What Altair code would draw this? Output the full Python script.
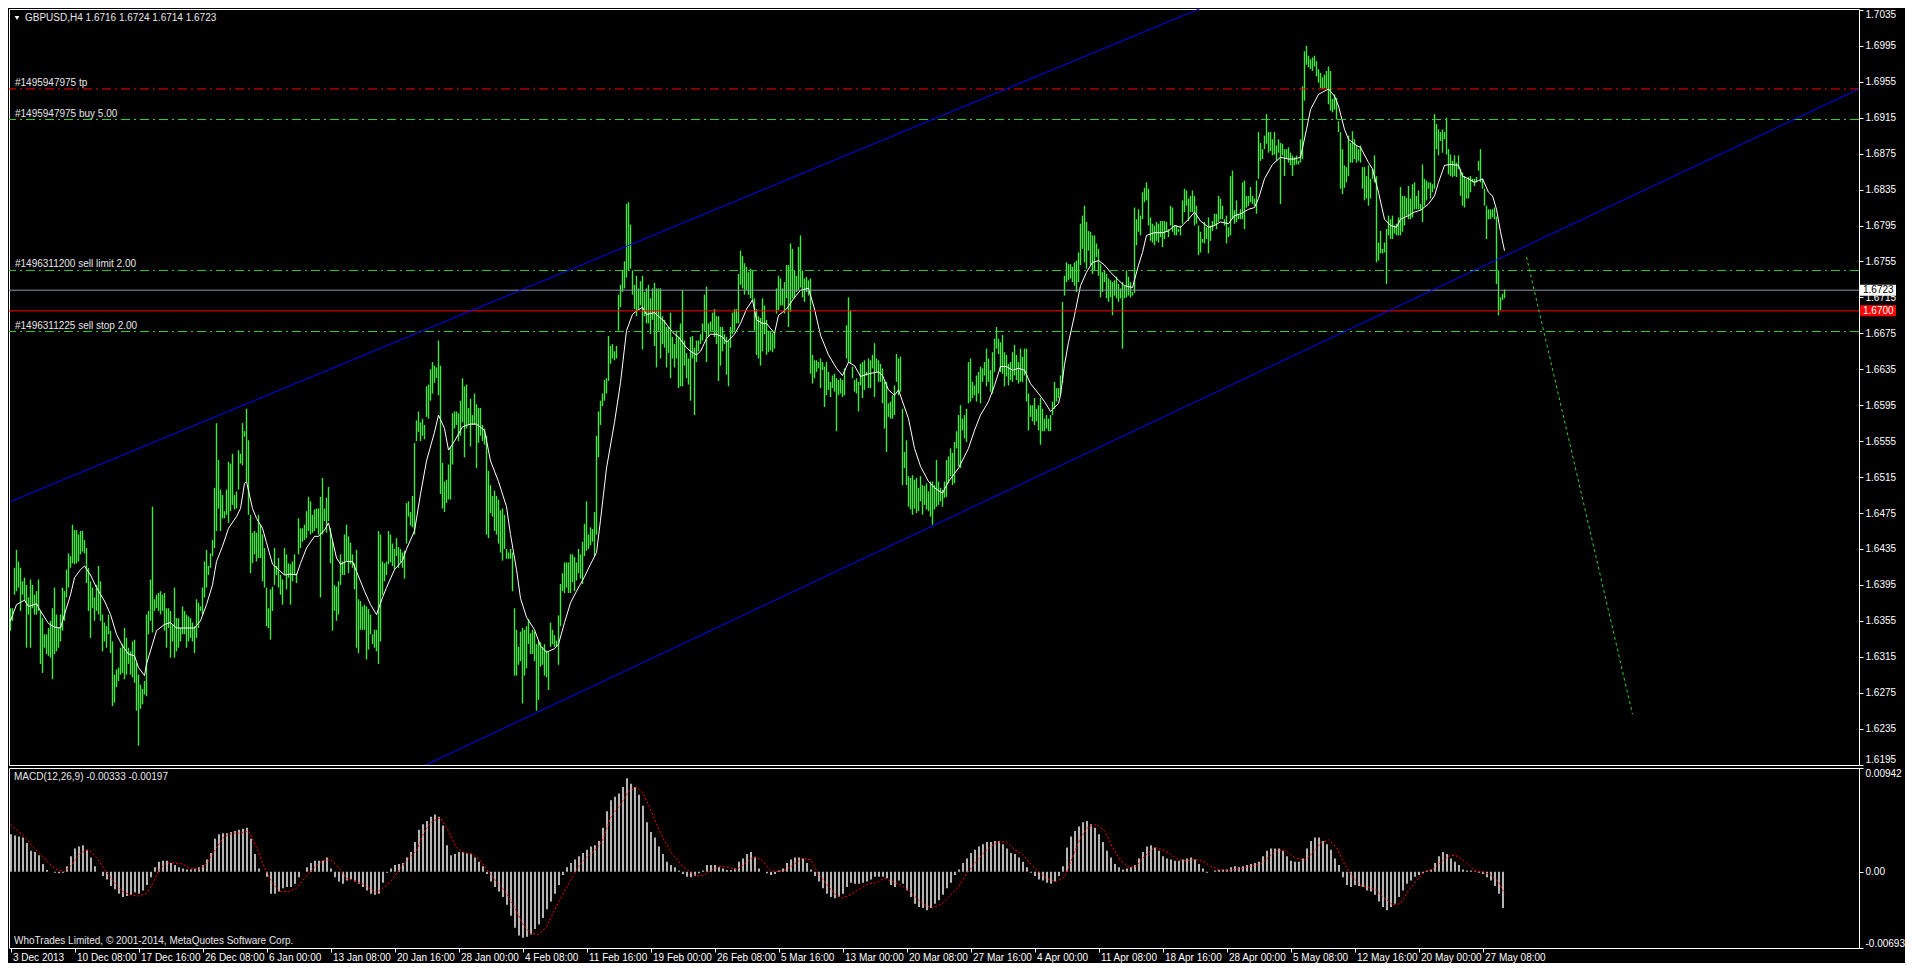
import altair as alt
import pandas as pd

FONT = "Liberation Sans"
W, H1, H2 = 1850, 756, 180
GREEN = "#3ee83e"
LINE_GREEN = "#32cd32"
TEXT = "#e6e6e6"

SYMBOL_TEXT = "GBPUSD,H4  1.6716 1.6724 1.6714 1.6723"
MACD_TEXT = "MACD(12,26,9) -0.00333 -0.00197"
COPYRIGHT_TEXT = "WhoTrades Limited, \u00a9 2001-2014, MetaQuotes Software Corp."

DATE_LABELS = ["3 Dec 2013", "10 Dec 08:00", "17 Dec 16:00", "26 Dec 08:00", "6 Jan 00:00",
               "13 Jan 08:00", "20 Jan 16:00", "28 Jan 00:00", "4 Feb 08:00", "11 Feb 16:00",
               "19 Feb 00:00", "26 Feb 08:00", "5 Mar 16:00", "13 Mar 00:00", "20 Mar 08:00",
               "27 Mar 16:00", "4 Apr 00:00", "11 Apr 08:00", "18 Apr 16:00", "28 Apr 00:00",
               "5 May 08:00", "12 May 16:00", "20 May 00:00", "27 May 08:00"]
BARS_PER_LABEL = 32

PRICE_TICKS = [1.6195, 1.6235, 1.6275, 1.6315, 1.6355, 1.6395, 1.6435, 1.6475, 1.6515, 1.6555, 1.6595,
               1.6635, 1.6675, 1.6715, 1.6755, 1.6795, 1.6835, 1.6875, 1.6915, 1.6955, 1.6995, 1.7035]
MACD_TICKS = [-0.00693, 0.0, 0.00942]
MACD_TICK_LABELS = ["-0.00693", "0.00", "0.00942"]

# H4 bars: high / low in pips above 1.6000, four consecutive segments
SEG_START = [0, 189, 379, 569]
HIGH_1 = [369, 369, 414, 434, 421, 414, 399, 403, 395, 381, 401, 395, 384, 388, 401, 366, 358, 340, 340, 347,
          355, 369, 392, 362, 347, 362, 392, 388, 412, 430, 427, 462, 456, 456, 451, 455, 455, 445, 436, 414,
          399, 392, 381, 395, 416, 399, 362, 353, 349, 362, 344, 332, 295, 301, 303, 325, 329, 347, 336, 325,
          321, 332, 334, 308, 295, 284, 279, 288, 362, 366, 401, 482, 379, 384, 386, 388, 384, 386, 369, 369,
          366, 351, 392, 358, 358, 347, 371, 366, 362, 360, 358, 353, 349, 379, 375, 371, 392, 421, 434, 416,
          430, 445, 503, 575, 534, 501, 495, 477, 501, 532, 530, 541, 495, 499, 545, 541, 575, 566, 591, 556,
          473, 453, 455, 453, 473, 462, 451, 436, 392, 369, 390, 393, 436, 416, 425, 406, 401, 436, 429, 419,
          418, 421, 429, 408, 469, 458, 458, 462, 477, 493, 488, 473, 479, 480, 480, 493, 514, 480, 492, 504,
          458, 443, 395, 393, 399, 429, 421, 451, 462, 449, 442, 429, 419, 434, 379, 377, 371, 373, 371, 368,
          362, 340, 345, 345, 455, 451, 421, 419, 421]
LOW_1 = [344, 355, 384, 388, 392, 366, 384, 377, 325, 362, 325, 369, 362, 362, 366, 307, 297, 325, 318, 316,
         314, 290, 318, 321, 325, 332, 344, 355, 381, 392, 414, 419, 418, 419, 421, 429, 432, 430, 397, 366,
         336, 369, 355, 366, 362, 355, 321, 332, 325, 340, 319, 260, 264, 281, 288, 295, 297, 290, 295, 307,
         295, 292, 286, 255, 216, 257, 262, 273, 271, 340, 355, 342, 366, 369, 366, 362, 366, 344, 325, 347,
         314, 332, 314, 321, 325, 332, 340, 340, 325, 332, 336, 332, 319, 336, 347, 366, 362, 381, 392, 406,
         414, 427, 436, 455, 480, 455, 469, 469, 473, 464, 477, 484, 479, 480, 501, 530, 528, 560, 510, 473,
         408, 419, 429, 421, 425, 425, 399, 392, 349, 347, 334, 366, 395, 406, 392, 384, 373, 406, 390, 403,
         373, 399, 406, 397, 429, 436, 443, 445, 447, 455, 451, 453, 455, 458, 451, 381, 451, 466, 453, 466,
         419, 344, 366, 355, 362, 395, 406, 406, 421, 408, 418, 414, 390, 325, 319, 345, 345, 345, 312, 323,
         340, 329, 325, 321, 307, 332, 384, 399, 406]
HIGH_2 = [455, 451, 441, 435, 447, 437, 435, 431, 433, 486, 488, 476, 494, 553, 578, 588, 576, 580, 573, 616,
          618, 635, 643, 639, 637, 667, 639, 531, 510, 512, 529, 549, 586, 588, 588, 586, 600, 625, 616, 618,
          592, 602, 584, 608, 596, 592, 592, 573, 569, 561, 522, 506, 494, 500, 494, 490, 478, 480, 473, 435,
          431, 435, 431, 369, 345, 326, 343, 347, 345, 349, 357, 341, 345, 343, 329, 333, 331, 326, 329, 322,
          320, 353, 345, 339, 333, 361, 396, 408, 420, 420, 420, 429, 429, 426, 420, 435, 429, 443, 463, 488,
          451, 459, 457, 476, 561, 588, 600, 608, 623, 625, 672, 661, 663, 655, 661, 718, 729, 745, 755, 819,
          821, 796, 745, 729, 739, 725, 733, 739, 721, 725, 729, 714, 725, 731, 725, 725, 725, 694, 690, 682,
          682, 698, 671, 663, 678, 671, 686, 723, 667, 653, 647, 671, 672, 659, 667, 667, 674, 686, 718, 727,
          686, 688, 698, 702, 694, 694, 682, 682, 674, 671, 667, 682, 698, 702, 702, 741, 767, 761, 753, 749,
          743, 747, 745, 714, 702, 694, 692, 714, 706, 690]
LOW_2 = [418, 420, 416, 412, 427, 414, 420, 414, 402, 441, 471, 461, 459, 451, 555, 565, 555, 561, 557, 582,
         580, 600, 608, 620, 625, 606, 496, 480, 476, 486, 490, 490, 529, 569, 573, 555, 561, 576, 537, 569,
         573, 549, 573, 573, 525, 553, 561, 555, 551, 451, 447, 475, 471, 455, 451, 441, 431, 422, 435, 424,
         424, 424, 388, 294, 294, 306, 310, 263, 294, 302, 329, 318, 318, 310, 255, 267, 304, 306, 294, 292,
         278, 326, 329, 326, 326, 306, 349, 388, 386, 392, 386, 386, 398, 388, 400, 408, 402, 396, 427, 433,
         435, 439, 443, 427, 451, 537, 573, 594, 600, 608, 622, 641, 647, 645, 647, 678, 704, 721, 725, 737,
         745, 747, 718, 702, 694, 702, 706, 657, 694, 686, 686, 674, 690, 661, 637, 678, 647, 663, 659, 637,
         653, 625, 647, 637, 647, 614, 616, 616, 639, 625, 618, 600, 647, 584, 643, 655, 663, 667, 678, 643,
         671, 676, 678, 671, 663, 622, 639, 655, 663, 629, 616, 659, 674, 678, 686, 686, 729, 725, 718, 723,
         718, 714, 710, 678, 651, 647, 639, 655, 674, 651]
HIGH_3 = [678, 677, 675, 677, 725, 739, 736, 725, 732, 751, 751, 775, 769, 745, 739, 771, 784, 745, 736, 738,
          734, 736, 651, 645, 645, 643, 647, 643, 638, 643, 632, 621, 628, 630, 625, 623, 625, 623, 636, 684,
          715, 701, 638, 623, 625, 621, 641, 643, 645, 632, 647, 645, 651, 664, 647, 645, 641, 636, 621, 621,
          597, 599, 606, 617, 652, 647, 649, 591, 543, 556, 516, 514, 517, 512, 514, 503, 516, 506, 505, 508,
          499, 510, 510, 506, 534, 510, 503, 501, 510, 534, 538, 547, 542, 554, 566, 584, 595, 580, 584, 591,
          643, 647, 621, 617, 628, 632, 638, 636, 643, 658, 647, 634, 654, 669, 682, 669, 665, 673, 654, 651,
          641, 643, 654, 662, 651, 643, 658, 649, 658, 658, 608, 595, 595, 603, 591, 595, 603, 591, 580, 584,
          580, 584, 599, 621, 614, 614, 628, 710, 739, 754, 752, 752, 749, 754, 756, 765, 797, 806, 817, 799,
          789, 788, 784, 784, 775, 769, 752, 743, 745, 741, 736, 734, 732, 734, 738, 730, 725, 732, 728, 745,
          738, 732, 721, 815, 802, 813, 806, 832, 837, 843]
LOW_3 = [654, 656, 654, 658, 697, 701, 706, 706, 697, 714, 682, 699, 714, 714, 721, 723, 726, 715, 710, 721,
         717, 630, 619, 625, 632, 636, 614, 634, 593, 606, 612, 604, 614, 610, 566, 606, 608, 604, 606, 647,
         643, 641, 625, 610, 608, 588, 617, 603, 612, 628, 614, 614, 636, 604, 632, 621, 621, 597, 569, 543,
         582, 580, 580, 584, 621, 606, 610, 506, 525, 506, 482, 479, 473, 480, 475, 477, 488, 473, 484, 479,
         477, 471, 462, 479, 482, 484, 488, 482, 492, 493, 508, 516, 506, 508, 547, 527, 525, 567, 558, 554,
         597, 599, 603, 606, 599, 608, 597, 621, 628, 616, 621, 610, 608, 632, 658, 652, 632, 630, 616, 627,
         617, 623, 621, 628, 623, 619, 621, 621, 628, 599, 567, 582, 577, 573, 577, 567, 551, 566, 566, 569,
         566, 566, 584, 591, 599, 603, 606, 620, 717, 732, 734, 736, 732, 728, 721, 732, 751, 769, 754, 747,
         767, 751, 741, 745, 760, 739, 715, 721, 732, 714, 710, 715, 695, 717, 714, 710, 714, 658, 714, 715,
         717, 715, 717, 720, 773, 788, 784, 802, 821, 823]
HIGH_4 = [836, 804, 797, 795, 799, 797, 800, 800, 800, 799, 791, 817, 815, 795, 795, 791, 795, 823, 836, 834,
          825, 828, 834, 828, 817, 795, 788, 780, 799, 793, 804, 795, 800, 808, 808, 828, 825, 817, 802, 806,
          793, 850, 856, 812, 823, 808, 813, 843, 845, 828, 828, 838, 828, 825, 845, 899, 887, 880, 895, 919,
          899, 899, 891, 899, 884, 891, 887, 886, 880, 880, 882, 876, 873, 871, 873, 867, 891, 950, 989, 995,
          984, 980, 982, 984, 978, 969, 965, 960, 963, 967, 972, 967, 936, 941, 937, 911, 899, 880, 862, 860,
          895, 887, 900, 891, 884, 880, 884, 860, 860, 850, 862, 847, 858, 873, 850, 776, 789, 769, 776, 791,
          806, 802, 806, 795, 797, 804, 838, 828, 828, 826, 839, 825, 841, 843, 828, 834, 819, 863, 847, 845,
          843, 843, 841, 919, 908, 902, 899, 902, 899, 915, 880, 874, 867, 873, 865, 873, 858, 854, 850, 847,
          849, 850, 847, 847, 849, 867, 880, 847, 836, 817, 813, 813, 813, 815, 805, 745, 715, 719, 724]
LOW_4 = [795, 778, 776, 773, 778, 776, 782, 771, 780, 788, 782, 795, 788, 784, 784, 788, 784, 797, 810, 817,
         800, 810, 810, 795, 797, 762, 765, 776, 775, 780, 764, 778, 789, 795, 791, 799, 802, 802, 795, 775,
         782, 784, 802, 797, 799, 802, 802, 802, 791, 815, 817, 821, 819, 817, 808, 847, 867, 869, 880, 886,
         876, 878, 873, 874, 867, 876, 819, 873, 850, 869, 865, 862, 850, 862, 863, 863, 865, 869, 934, 974,
         971, 969, 967, 972, 961, 954, 948, 947, 948, 947, 930, 923, 921, 924, 913, 899, 836, 830, 837, 843,
         850, 865, 865, 869, 865, 867, 865, 836, 823, 825, 817, 825, 847, 843, 754, 756, 764, 764, 765, 730,
         784, 780, 780, 786, 784, 784, 784, 788, 795, 806, 802, 802, 804, 813, 813, 813, 812, 799, 817, 823,
         836, 825, 832, 836, 880, 873, 889, 876, 891, 874, 852, 850, 849, 850, 849, 858, 828, 817, 815, 825,
         825, 832, 843, 839, 843, 856, 843, 836, 817, 780, 802, 802, 804, 802, 730, 695, 701, 712, 714]

# white moving average: (bar, pips above 1.6000)
MA_BAR = [0, 3, 7, 9, 13, 15, 19, 22, 25, 27, 30, 32, 35, 37, 40, 43, 47, 50, 53, 56, 59, 62, 64, 67, 68, 71,
          73, 77, 80, 83, 87, 90, 92, 95, 98, 101, 103, 106, 109, 113, 115, 117, 118, 121, 123, 126, 128, 131,
          133, 137, 140, 143, 145, 148, 152, 154, 157, 159, 163, 165, 168, 171, 173, 177, 180, 183, 186, 188,
          192, 196, 198, 202, 205, 208, 212, 214, 217, 219, 222, 226, 230, 233, 237, 240, 244, 248, 250, 253,
          255, 258, 262, 265, 268, 272, 274, 277, 280, 283, 287, 290, 293, 295, 298, 302, 305, 308, 311, 313,
          316, 318, 322, 324, 327, 329, 332, 334, 338, 340, 343, 345, 348, 350, 353, 356, 358, 362, 365, 368,
          371, 373, 376, 378, 382, 384, 388, 392, 395, 399, 402, 405, 409, 413, 416, 419, 422, 425, 429, 434,
          436, 439, 442, 444, 449, 452, 455, 459, 462, 466, 469, 474, 479, 482, 485, 489, 492, 495, 498, 501,
          504, 507, 510, 514, 517, 520, 524, 525, 527, 529, 532, 535, 538, 541, 544, 547, 550, 554, 557, 561,
          564, 566, 568, 572, 576, 579, 582, 585, 589, 592, 595, 599, 602, 605, 609, 612, 615, 619, 622, 624,
          627, 631, 635, 639, 642, 645, 648, 650, 654, 659, 662, 664, 667, 669, 673, 675, 679, 681, 684, 687,
          690, 693, 695, 699, 702, 705, 709, 712, 714, 717, 720, 724, 726, 729, 732, 734, 736, 739, 741, 743,
          745, 747]
MA_PIP = [355, 373, 378, 371, 374, 366, 352, 348, 347, 362, 384, 403, 412, 416, 406, 392, 377, 362, 340, 327,
          318, 316, 303, 294, 307, 329, 344, 351, 353, 347, 347, 347, 347, 355, 373, 395, 421, 438, 458, 471,
          480, 508, 510, 480, 469, 458, 442, 418, 414, 406, 407, 406, 419, 436, 449, 449, 456, 464, 425, 418,
          421, 421, 410, 388, 373, 362, 381, 392, 412, 422, 435, 455, 496, 533, 565, 584, 569, 545, 555, 571,
          574, 574, 567, 533, 510, 482, 451, 412, 380, 359, 345, 327, 320, 324, 329, 353, 375, 388, 404, 418,
          431, 467, 525, 576, 620, 678, 696, 700, 704, 696, 698, 694, 688, 682, 674, 671, 659, 655, 651, 655,
          669, 674, 674, 671, 665, 674, 686, 702, 712, 690, 686, 686, 675, 695, 702, 715, 723, 725, 702, 673,
          651, 636, 628, 643, 639, 627, 630, 632, 628, 612, 606, 612, 580, 547, 527, 510, 503, 497, 510, 525,
          547, 567, 584, 599, 617, 638, 638, 634, 636, 634, 619, 608, 599, 588, 597, 606, 640, 665, 695, 728,
          743, 754, 756, 751, 743, 734, 728, 726, 751, 765, 784, 787, 787, 789, 795, 793, 802, 810, 800, 793,
          795, 799, 797, 806, 808, 813, 815, 825, 847, 863, 871, 869, 869, 871, 902, 924, 941, 947, 939, 928,
          902, 891, 884, 882, 865, 858, 832, 802, 795, 793, 802, 806, 810, 812, 819, 828, 843, 862, 863, 862,
          850, 847, 843, 845, 847, 832, 828, 813, 788, 767]

# MACD main (histogram), every second bar from bar 0, in units of 0.0001
MACD_HIST = [34, 33, 32, 31, 26, 19, 18, 15, 7, 1.5, 0, -1, -1.5, -1, 5, 14, 21, 23, 24, 20,
             13, 5, 0, -4, -7, -13, -16, -20, -23, -22, -21, -19, -20, -17, -12, -5, 4, 9, 10, 10,
             8, 6, 4, 3, 2, 2, 3, 4, 6, 11, 17, 30, 34, 35, 35, 36, 37, 38, 39, 40,
             30, 16, 3, 0, -4.5, -20, -20, -18, -15, -14, -14, -11, -5, 0, 4, 8, 10, 10, 10, 13,
             3, -5, -9, -11, -8, -7, -9, -11, -14, -17, -20, -21, -20, -10, -1, 3, 6, 7, 8, 13,
             18, 27, 38, 43, 46, 50, 52, 50, 42, 24, 15, 16, 18, 18, 17, 16, 13, 9, 5, -2,
             -9, -14, -18, -23, -30, -40, -51, -58, -60, -59, -57, -52, -48, -42, -34, -27, -20, -12, -3, 4,
             8, 11, 14, 17, 20, 23, 24, 28, 40, 55, 65, 68, 71, 77, 85, 80, 77, 70, 60, 45,
             36, 31, 23, 16, 9, 6, 4, 1, -2, -4.5, -5, -4, -1.5, 1, 6, 6, 6, 4, 3, 1.5,
             1.5, 3, 9, 12, 16, 18, 13, 3, 0, -1.5, -3, -2, 1, 3, 8, 11, 13, 13, 12, 8,
             2, -4, -9, -15, -20, -23, -24, -23, -20, -14, -10, -11, -11, -10, -9, -7, -4.5, -4.5, -4.5, -6,
             -12, -14, -8, -11, -17, -23, -29, -32, -33, -35, -33, -29, -26, -21, -15, -10, -3, 2, 8, 12,
             17, 20, 23, 25, 27, 27, 28, 28, 25, 21, 17, 16, 13, 9, 4, -1, -4, -7, -8, -10,
             -11, -9, -4, 5, 22, 32, 37, 41, 45, 46, 43, 40, 34, 27, 19, 13, 7, 4, 2, 3,
             4, 6, 12, 18, 23, 24, 22, 19, 14, 12, 11, 10, 10, 11, 12, 13, 11, 7, 3, -1,
             0, 1, 1.5, 2, 2, 4, 5, 4, 5, 6, 7, 8, 9, 14, 19, 21, 21, 21, 19, 14,
             10, 9, 9, 12, 21, 28, 31, 31, 28, 25, 20, 12, 6, -5, -12, -14, -12, -13, -14, -17,
             -18, -21, -27, -32, -35, -32, -29, -23, -17, -11, -8, -4.5, -3, -1.5, 1, 2, 8, 14, 18, 16,
             12, 9, 6, 2, 1, 1, 0.5, -1, -2, -5, -8, -13, -20, -33]

# MACD signal (red dotted): (bar, units of 0.0001)
SIG_BAR = [0, 3, 7, 11, 15, 19, 23, 27, 31, 35, 39, 43, 47, 52, 56, 60, 64, 68, 71, 74, 78, 82, 86, 90, 94,
           98, 103, 107, 111, 115, 119, 123, 127, 131, 135, 139, 143, 147, 152, 156, 160, 164, 168, 172, 176,
           180, 183, 186, 190, 194, 198, 203, 207, 211, 215, 219, 223, 227, 231, 235, 239, 243, 247, 252, 256,
           260, 264, 268, 272, 276, 280, 284, 288, 292, 296, 300, 305, 309, 313, 316, 319, 323, 327, 331, 335,
           339, 343, 347, 351, 355, 359, 363, 367, 372, 376, 380, 384, 388, 392, 396, 400, 404, 408, 412, 416,
           420, 425, 429, 433, 437, 441, 445, 449, 453, 457, 461, 465, 469, 474, 478, 482, 486, 490, 494, 498,
           502, 506, 510, 514, 518, 523, 527, 531, 535, 539, 543, 547, 551, 555, 559, 563, 567, 572, 576, 580,
           584, 588, 592, 596, 600, 604, 608, 612, 616, 620, 625, 629, 633, 637, 642, 647, 651, 655, 659, 663,
           667, 671, 675, 679, 683, 687, 691, 695, 699, 703, 707, 711, 716, 720, 724, 728, 732, 736, 740, 744,
           747]
SIG_VAL = [43, 38, 32, 23, 16, 8, 2, 0, 7, 17, 20, 13, 2, -10, -18, -21, -22, -20, -11, 1, 8, 8, 7, 3, 2,
           7, 22, 32, 35, 35, 37, 22, 4, -11, -18, -18, -15, -6, 4, 10, 11, 4, -6, -8, -11,
           -16, -19, -15, -9, 1, 10, 19, 37, 46, 49, 37, 22, 17, 16, 10, 0, -9, -17, -32, -47,
           -56, -57, -50, -35, -21, -8, 5, 13, 19, 28, 49, 61, 73, 77, 72, 61, 43, 28, 16, 7,
           1, -4, -3, 2, 5, 4, 2, 7, 14, 10, 1, 0, 2, 7, 12, 11, -2, -11, -20, -24,
           -21, -15, -11, -10, -6, -9, -12, -17, -24, -30, -33, -30, -23, -14, -2, 7, 16, 23, 27, 27,
           20, 16, 7, 0, -6, -9, -5, 13, 31, 41, 43, 37, 22, 10, 4, 5, 14, 22, 20, 16,
           11, 10, 11, 10, 5, 2, 1, 2, 3, 5, 7, 13, 19, 20, 13, 10, 17, 26, 29, 22,
           7, -5, -12, -14, -17, -24, -30, -29, -17, -8, 0, 2, 10, 15, 14, 8, 1, 0, -3, -9,
           -20]

ORDER_TP_TEXT = ["#1495947975 tp"]
ORDER_TP_PRICE = [1.6947]
ORDER_TEXT = ["#1495947975 buy 5.00", "#1496311200 sell limit 2.00", "#1496311225 sell stop 2.00"]
ORDER_PRICE = [1.6913, 1.6745, 1.6677]
BID_PRICE = [1.6723]
LEVEL_PRICE = [1.6700]

# trend lines: (bar, price) -> (bar, price)
CHANNEL_BAR = [0, 200]
CHANNEL_PRICE = [1.64877, 1.61865]
CHANNEL_BAR2 = [610, 925]
CHANNEL_PRICE2 = [1.70505, 1.69479]
PROJ_BAR, PROJ_PRICE, PROJ_BAR2, PROJ_PRICE2 = [758], [1.6760], [811], [1.6251]

# ---------------- build tables ----------------
rows = []
for start, hs, ls in zip(SEG_START, [HIGH_1, HIGH_2, HIGH_3, HIGH_4], [LOW_1, LOW_2, LOW_3, LOW_4]):
    for k, (h, l) in enumerate(zip(hs, ls)):
        rows.append({"bar": start + k, "high": 1.6 + max(h, l) / 10000, "low": 1.6 + min(h, l) / 10000})
bars = pd.DataFrame(rows)
ma = pd.DataFrame({"bar": MA_BAR, "ma": [1.6 + v / 10000 for v in MA_PIP]})
hist = pd.DataFrame({"bar": [2 * k for k in range(len(MACD_HIST))],
                     "hist": [v / 10000 for v in MACD_HIST], "zero": 0.0})
sig = pd.DataFrame({"bar": SIG_BAR, "sig": [v / 10000 for v in SIG_VAL]})
tp = pd.DataFrame({"label": ORDER_TP_TEXT, "price": ORDER_TP_PRICE})
orders = pd.DataFrame({"label": ORDER_TEXT, "price": ORDER_PRICE})
bid = pd.DataFrame({"price": BID_PRICE, "txt": [f"{p:.4f}" for p in BID_PRICE]})
level = pd.DataFrame({"price": LEVEL_PRICE, "txt": [f"{p:.4f}" for p in LEVEL_PRICE]})
channel = pd.DataFrame({"bar": CHANNEL_BAR, "price": CHANNEL_PRICE, "bar2": CHANNEL_BAR2, "price2": CHANNEL_PRICE2})
proj = pd.DataFrame({"bar": PROJ_BAR, "price": PROJ_PRICE, "bar2": PROJ_BAR2, "price2": PROJ_PRICE2})

xs = alt.Scale(domain=[-0.75, W / 2 - 0.75], nice=False, zero=False)
ys = alt.Scale(domain=[1.61945, 1.7036], nice=False, zero=False)
ms = alt.Scale(domain=[MACD_TICKS[0], MACD_TICKS[-1]], nice=False, zero=False)

price_axis = alt.Axis(orient="right", values=PRICE_TICKS, format=".4f", title=None, grid=False, domain=False,
                      tickColor="white", tickSize=4, labelPadding=2, labelColor="white", labelFont=FONT,
                      labelFontSize=10, labelFlush=2, labelOverlap=False)
X = alt.X("bar:Q", scale=xs, axis=None)
X2 = alt.X2("bar2:Q")


def Y(field):
    return alt.Y(field, scale=ys, axis=price_axis)


def txt(s):
    return pd.DataFrame({"t": [s]})


price_bars = alt.Chart(bars).mark_rule(color=GREEN, strokeWidth=1.4).encode(x=X, y=Y("low:Q"), y2="high:Q")
ma_line = alt.Chart(ma).mark_line(color="white", strokeWidth=1).encode(x=X, y=Y("ma:Q"))
dashdot = [9, 4, 2, 4]
tp_line = alt.Chart(tp).mark_rule(color="#ff0000", strokeWidth=1, strokeDash=dashdot).encode(y=Y("price:Q"))
order_lines = alt.Chart(orders).mark_rule(color=LINE_GREEN, strokeWidth=1, strokeDash=dashdot).encode(
    y=Y("price:Q"))
bid_line = alt.Chart(bid).mark_rule(color="#8c98a4", strokeWidth=1).encode(y=Y("price:Q"))
level_line = alt.Chart(level).mark_rule(color="#ff0000", strokeWidth=1).encode(y=Y("price:Q"))
channel_lines = alt.Chart(channel).mark_rule(color="#0000ff", strokeWidth=1, clip=True).encode(
    x=X, x2=X2, y=Y("price:Q"), y2="price2:Q")
proj_line = alt.Chart(proj).mark_rule(color=LINE_GREEN, strokeWidth=1, strokeDash=[3, 3], clip=True).encode(
    x=X, x2=X2, y=Y("price:Q"), y2="price2:Q")
order_text = alt.Chart(pd.concat([tp, orders])).mark_text(
    align="left", baseline="alphabetic", dy=-3, color=TEXT, font=FONT, fontSize=10).encode(
    x=alt.value(6), y=Y("price:Q"), text="label:N")
bid_box = alt.Chart(bid).mark_rule(color="white", strokeWidth=11).encode(
    x=alt.value(W + 1), x2=alt.value(W + 37), y=Y("price:Q"))
bid_txt = alt.Chart(bid).mark_text(align="left", baseline="middle", color="black", font=FONT, fontSize=10).encode(
    x=alt.value(W + 4), y=Y("price:Q"), text="txt:N")
level_box = alt.Chart(level).mark_rule(color="#ff0000", strokeWidth=11).encode(
    x=alt.value(W + 1), x2=alt.value(W + 37), y=Y("price:Q"))
level_txt = alt.Chart(level).mark_text(align="left", baseline="middle", color="white", font=FONT, fontSize=10).encode(
    x=alt.value(W + 4), y=Y("price:Q"), text="txt:N")
tri = alt.Chart(txt("v")).mark_point(shape="triangle-down", filled=True, color="white", size=22, opacity=1).encode(
    x=alt.value(8), y=alt.value(9))
header = alt.Chart(txt(SYMBOL_TEXT)).mark_text(align="left", baseline="middle", color=TEXT, font=FONT,
                                               fontSize=10).encode(x=alt.value(16), y=alt.value(9), text="t:N")

main = alt.layer(price_bars, ma_line, tp_line, order_lines, bid_line, level_line, channel_lines, proj_line,
                 order_text, bid_box, bid_txt, level_box, level_txt, tri, header).properties(width=W, height=H1)

date_expr = "[" + ",".join("'" + s + "'" for s in DATE_LABELS) + "][round(datum.value / %d)]" % BARS_PER_LABEL
date_axis = alt.Axis(values=[BARS_PER_LABEL * k for k in range(len(DATE_LABELS))], labelExpr=date_expr,
                     title=None, grid=False, domain=False, tickColor="white", tickSize=4, labelPadding=0,
                     labelAlign="left", labelOffset=2, labelColor="white", labelFont=FONT, labelFontSize=10,
                     labelFlush=False, labelOverlap=False)
macd_expr = "datum.value < 0 ? '%s' : (datum.value > 0 ? '%s' : '%s')" % (
    MACD_TICK_LABELS[0], MACD_TICK_LABELS[2], MACD_TICK_LABELS[1])
macd_axis = alt.Axis(orient="right", values=MACD_TICKS, labelExpr=macd_expr, title=None, grid=False, domain=False,
                     tickColor="white", tickSize=4, labelPadding=2, labelColor="white", labelFont=FONT,
                     labelFontSize=10, labelFlush=2, labelOverlap=False)
XM = alt.X("bar:Q", scale=xs, axis=date_axis)

hist_bars = alt.Chart(hist).mark_rule(color="#b4b4b4", strokeWidth=2, xOffset=0.5).encode(
    x=XM, y=alt.Y("zero:Q", scale=ms, axis=macd_axis), y2="hist:Q")
sig_line = alt.Chart(sig).mark_line(color="#ff0000", strokeWidth=1, strokeDash=[2, 2]).encode(
    x=XM, y=alt.Y("sig:Q", scale=ms, axis=macd_axis))
macd_title = alt.Chart(txt(MACD_TEXT)).mark_text(align="left", baseline="middle", color=TEXT, font=FONT,
                                                 fontSize=10).encode(x=alt.value(5), y=alt.value(9), text="t:N")
copyright_txt = alt.Chart(txt(COPYRIGHT_TEXT)).mark_text(align="left", baseline="middle", color=TEXT, font=FONT,
                                                         fontSize=10).encode(x=alt.value(5), y=alt.value(H2 - 7),
                                                                             text="t:N")
macd_chart = alt.layer(hist_bars, sig_line, macd_title, copyright_txt).properties(width=W, height=H2)

chart = alt.vconcat(main, macd_chart, spacing=3, bounds="flush").properties(
    background="black", padding=0).configure_view(stroke="white", strokeWidth=1)

chart.save("out.html", embed_options={"renderer": "svg", "actions": False})
